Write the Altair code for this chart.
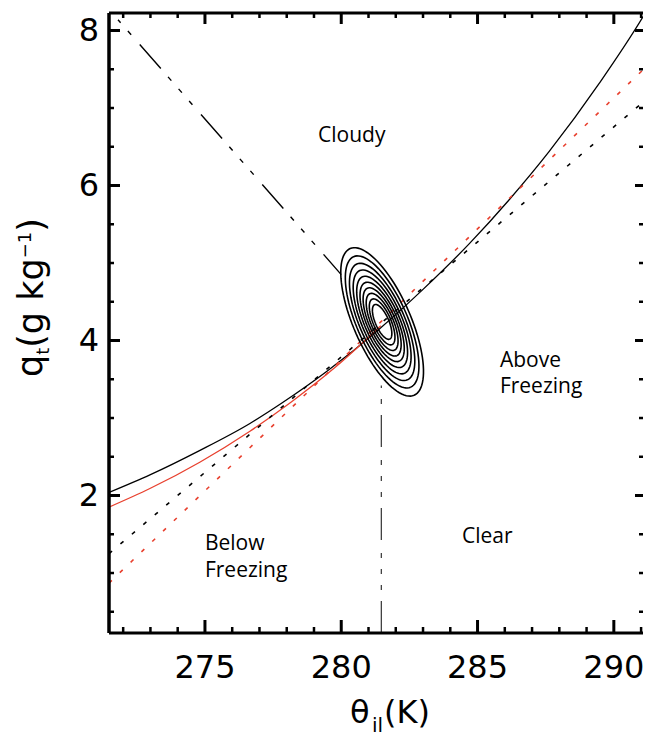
import numpy as np
import pandas as pd
import altair as alt

# ---------------- axis ranges / ticks ----------------
X_DOMAIN = [271.48, 291.07]
Y_DOMAIN = [0.226, 8.226]
W, H = 534, 620

x_major = [275, 280, 285, 290]
x_minor = [272, 273, 274, 276, 277, 278, 279, 281, 282, 283, 284, 286, 287, 288, 289, 291]
y_major = [2, 4, 6, 8]
y_minor = [0.5, 1.0, 1.5, 2.5, 3.0, 3.5, 4.5, 5.0, 5.5, 6.5, 7.0, 7.5]

# ---------------- curves ----------------
# saturation curve over liquid (black solid)
liq_theta = [271.48, 273.0, 274.8, 276.65, 277.85, 279.5, 281.4, 283.0, 284.7, 286.17, 287.63, 289.47, 291.11, 291.36]
liq_q = [2.04, 2.27, 2.58, 2.93, 3.20, 3.61, 4.15, 4.66, 5.25, 5.82, 6.44, 7.32, 8.20, 8.35]

# saturation curve over ice (red solid), below freezing only
ice_theta = [271.48, 272.98, 274.81, 276.65, 278.18, 279.8, 281.45]
ice_q = [1.85, 2.09, 2.43, 2.83, 3.21, 3.66, 4.19]

# linearised saturation lines (dashed)
lin_liq_theta = [271.48, 281.45, 291.36]
lin_liq_q = [1.25, 4.22, 7.16]
lin_ice_theta = [271.48, 281.45, 291.36]
lin_ice_q = [0.87, 4.24, 7.59]

# dash-dot-dot-dot guides
guide_theta = [271.81, 280.0]
guide_q = [8.14, 4.85]
freeze_theta = [281.47, 281.47]
freeze_q = [0.226, 3.42]

# joint PDF contours: centre, semi-axis vectors of outermost contour, relative sizes
ell_center = [281.50, 4.24]
ell_major = [1.1753, -0.9459]
ell_minor = [0.9600, 0.1476]
ell_scales = [1.0, 0.89, 0.79, 0.70, 0.615, 0.535, 0.46, 0.385, 0.31, 0.235]

# region labels
ann_text = ["Cloudy", "Above", "Freezing", "Below", "Freezing", "Clear"]
ann_theta = [279.15, 285.82, 285.82, 275.0, 275.0, 284.43]
ann_q = [6.56, 3.66, 3.32, 1.30, 0.95, 1.39]

# ---------------- helpers ----------------
xs = alt.Scale(domain=X_DOMAIN, nice=False, zero=False)
ys = alt.Scale(domain=Y_DOMAIN, nice=False, zero=False)
RED = "#e8402e"
one = pd.DataFrame({"a": [0]})
X0, X1 = X_DOMAIN
Y0, Y1 = Y_DOMAIN


def line_layer(theta, q, color, width, dash=None, offset=None, interp="linear"):
    df = pd.DataFrame({"theta": theta, "q": q, "i": list(range(len(theta)))})
    kw = dict(color=color, strokeWidth=width, clip=True, interpolate=interp)
    if dash is not None:
        kw["strokeDash"] = dash
    if offset is not None:
        kw["strokeDashOffset"] = offset
    return alt.Chart(df).mark_line(**kw).encode(
        x=alt.X("theta:Q", scale=xs, axis=None),
        y=alt.Y("q:Q", scale=ys, axis=None),
        order="i:Q",
    )


def xticks(values, edge, size, thick):
    df = pd.DataFrame({"v": values})
    return alt.Chart(df).mark_tick(orient="vertical", size=size, thickness=thick,
                                   color="black", opacity=1, clip=True).encode(
        x=alt.X("v:Q", scale=xs, axis=None),
        y=alt.YDatum(edge, scale=ys, axis=None, type="quantitative"),
    )


def yticks(values, edge, size, thick):
    df = pd.DataFrame({"v": values})
    return alt.Chart(df).mark_tick(orient="horizontal", size=size, thickness=thick,
                                   color="black", opacity=1, clip=True).encode(
        y=alt.Y("v:Q", scale=ys, axis=None),
        x=alt.XDatum(edge, scale=xs, axis=None, type="quantitative"),
    )


def text_px(txt, x, y, size, angle=0):
    return alt.Chart(one).mark_text(text=txt, font="DejaVu Sans", fontSize=size, color="black",
                                    align="left", baseline="alphabetic", angle=angle).encode(
        x=alt.value(x), y=alt.value(y))


# ---------------- layers ----------------
liq = line_layer(liq_theta, liq_q, "black", 1.3, interp="monotone")
ice = line_layer(ice_theta, ice_q, RED, 1.3, interp="monotone")
lin_liq = line_layer(lin_liq_theta, lin_liq_q, "black", 1.6, dash=[4, 11])
lin_ice = line_layer(lin_ice_theta, lin_ice_q, RED, 1.6, dash=[4, 11])
pattern = [32, 11, 5, 11, 5, 11, 5, 13]
guide = line_layer(guide_theta, guide_q, "black", 1.4, dash=pattern, offset=60)
freeze = line_layer(freeze_theta, freeze_q, "#333333", 1.2, dash=pattern)

# contour ellipses
t = np.linspace(0, 2 * np.pi, 97)
rows = []
for k, s in enumerate(ell_scales):
    for i, tt in enumerate(t):
        rows.append({
            "lev": k, "i": i,
            "theta": ell_center[0] + s * (ell_major[0] * np.cos(tt) + ell_minor[0] * np.sin(tt)),
            "q": ell_center[1] + s * (ell_major[1] * np.cos(tt) + ell_minor[1] * np.sin(tt)),
        })
cont = alt.Chart(pd.DataFrame(rows)).mark_line(color="black", strokeWidth=1.6, clip=True).encode(
    x=alt.X("theta:Q", scale=xs, axis=None),
    y=alt.Y("q:Q", scale=ys, axis=None),
    detail="lev:N",
    order="i:Q",
)

ann = alt.Chart(pd.DataFrame({"theta": ann_theta, "q": ann_q, "label": ann_text})).mark_text(
    font="Open Sans", fontSize=21, align="left", baseline="alphabetic", color="black").encode(
    x=alt.X("theta:Q", scale=xs, axis=None),
    y=alt.Y("q:Q", scale=ys, axis=None),
    text="label:N",
)

# tick labels
xlab = alt.Chart(pd.DataFrame({"v": x_major})).mark_text(
    font="DejaVu Sans", fontSize=32, align="center", baseline="top", dy=20, color="black").encode(
    x=alt.X("v:Q", scale=xs, axis=None),
    y=alt.YDatum(Y0, scale=ys, axis=None, type="quantitative"),
    text=alt.Text("v:Q", format="d"),
)
ylab = alt.Chart(pd.DataFrame({"v": y_major})).mark_text(
    font="DejaVu Sans", fontSize=32, align="right", baseline="middle", dx=-10, color="black").encode(
    y=alt.Y("v:Q", scale=ys, axis=None),
    x=alt.XDatum(X0, scale=xs, axis=None, type="quantitative"),
    text=alt.Text("v:Q", format="d"),
)

# frame
left_line = alt.Chart(one).mark_rule(color="black", strokeWidth=3.5).encode(
    x=alt.XDatum(X0, scale=xs, axis=None, type="quantitative"),
    y=alt.YDatum(Y0, scale=ys, axis=None, type="quantitative"),
    y2=alt.Y2Datum(Y1),
)
bottom_line = alt.Chart(one).mark_rule(color="black", strokeWidth=3).encode(
    y=alt.YDatum(Y0, scale=ys, axis=None, type="quantitative"),
    x=alt.XDatum(X0, scale=xs, axis=None, type="quantitative"),
    x2=alt.X2Datum(X1),
)
top_line = alt.Chart(one).mark_rule(color="black", strokeWidth=3).encode(
    y=alt.YDatum(Y1, scale=ys, axis=None, type="quantitative"),
    x=alt.XDatum(X0, scale=xs, axis=None, type="quantitative"),
    x2=alt.X2Datum(X1),
)

ticks = [
    xticks(x_major, Y0, 26, 3), xticks(x_minor, Y0, 12, 2.5),
    xticks(x_major, Y1, 22, 3), xticks(x_minor, Y1, 10, 2.5),
    yticks(y_major, X0, 22, 3), yticks(y_minor, X0, 10, 2.5),
    yticks(y_major, X1, 16, 3), yticks(y_minor, X1, 8, 2.5),
]

# axis titles with sub/superscripts
titles = [
    text_px("θ", 241, 710, 32),
    text_px("il", 263, 719, 20),
    text_px("(K)", 275, 710, 32),
    text_px("q", -67, 364, 35, 270),
    text_px("t", -60, 341.8, 18, 270),
    text_px("(g kg", -66, 334.8, 35, 270),
    text_px("−1", -78, 245.3, 18, 270),
    text_px(")", -66, 218.8, 35, 270),
]

chart = alt.layer(
    liq, ice, lin_liq, lin_ice, guide, freeze, cont, ann, xlab, ylab,
    *ticks, left_line, bottom_line, top_line, *titles
).properties(
    width=W, height=H,
    padding={"left": 101, "top": 5, "right": 0, "bottom": 103},
    autosize=alt.AutoSizeParams(type="none"),
    background="white",
).configure_view(stroke=None)

chart.save("out.html", embed_options={"renderer": "svg", "actions": False})
